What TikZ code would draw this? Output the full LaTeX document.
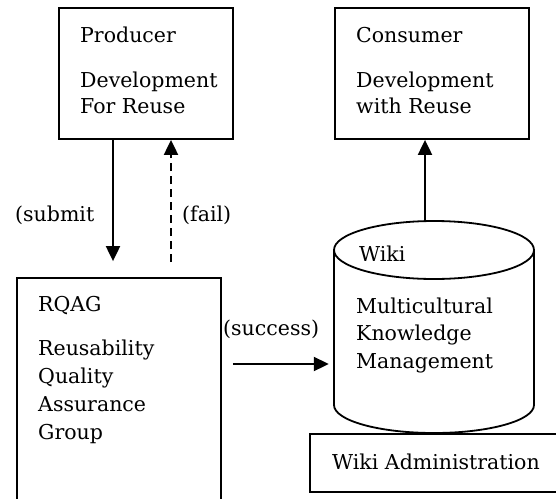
\documentclass[tikz,border=0pt]{standalone}
\usepackage{fontspec}
\setmainfont{DejaVu Serif}
\usetikzlibrary{arrows.meta}
\begin{document}
\begin{tikzpicture}[x=1pt,y=-1pt,
  box/.style={draw,line width=1.8pt,inner sep=0pt},
  holder/.style={inner sep=0pt},
  lbl/.style={anchor=base west,inner sep=0pt,font=\fontsize{20.5}{24}\selectfont},
  conn/.style={line width=2pt,-{Triangle[length=15pt,width=14pt]}},
  dconn/.style={conn,dash pattern=on 8pt off 5pt}]
\useasboundingbox (0,0) rectangle (556,498);
\clip (0,0) rectangle (556,498);
% boxes
\node[box,minimum width=174pt,minimum height=131pt] (prod) at (146,73.5) {};
\node[box,minimum width=194pt,minimum height=131pt] (cons) at (432,73.5) {};
\node[box,minimum width=204pt,minimum height=232pt] (rqag) at (119,394) {};
\node[box,minimum width=260pt,minimum height=58pt] (admin) at (440,463) {};
\node[holder,minimum width=200pt,minimum height=212pt] (wiki) at (434,327) {};
% cylinder
\draw[line width=1.8pt] (334,250) -- (334,405)
  arc[start angle=180,end angle=360,x radius=100pt,y radius=28pt] -- (534,250);
\draw[line width=1.8pt] (434,250) ellipse[x radius=100pt,y radius=29pt];
% texts
\node[lbl] (t1) at (80,42) {Producer};
\node[lbl] (t2) at (80,87) {Development};
\node[lbl] (t3) at (80,113) {For Reuse};
\node[lbl] (t4) at (356,42) {Consumer};
\node[lbl] (t5) at (356,87) {Development};
\node[lbl] (t6) at (356,113) {with Reuse};
\node[lbl] (t7) at (38,311) {RQAG};
\node[lbl] (t8) at (38,355) {Reusability};
\node[lbl] (t9) at (38,383) {Quality};
\node[lbl] (t10) at (38,411) {Assurance};
\node[lbl] (t11) at (38,439) {Group};
\node[lbl] (t12) at (359,261) {Wiki};
\node[lbl] (t13) at (356,313) {Multicultural};
\node[lbl] (t14) at (356,340) {Knowledge};
\node[lbl] (t15) at (356,368) {Management};
\node[lbl] (t16) at (332,469) {Wiki Administration};
\node[lbl] (l1) at (15,221) {(submit};
\node[lbl] (l2) at (182,221) {(fail)};
\node[lbl] (l3) at (223,335) {(success)};
% connector x positions
\coordinate (xs) at (113,0);
\coordinate (xf) at (171,0);
\coordinate (xc) at (425,0);
\coordinate (ys) at (0,364);
% connectors
\draw[conn] (prod.south -| xs) -- ([yshift=16pt]rqag.north -| xs);
\draw[dconn] ([yshift=15pt]rqag.north -| xf) -- (prod.south -| xf);
\draw[conn] (wiki.north -| xc) -- (cons.south -| xc);
\draw[conn] ([xshift=11pt]rqag.east |- ys) -- ([xshift=-5pt]wiki.west |- ys);
\end{tikzpicture}
\end{document}
